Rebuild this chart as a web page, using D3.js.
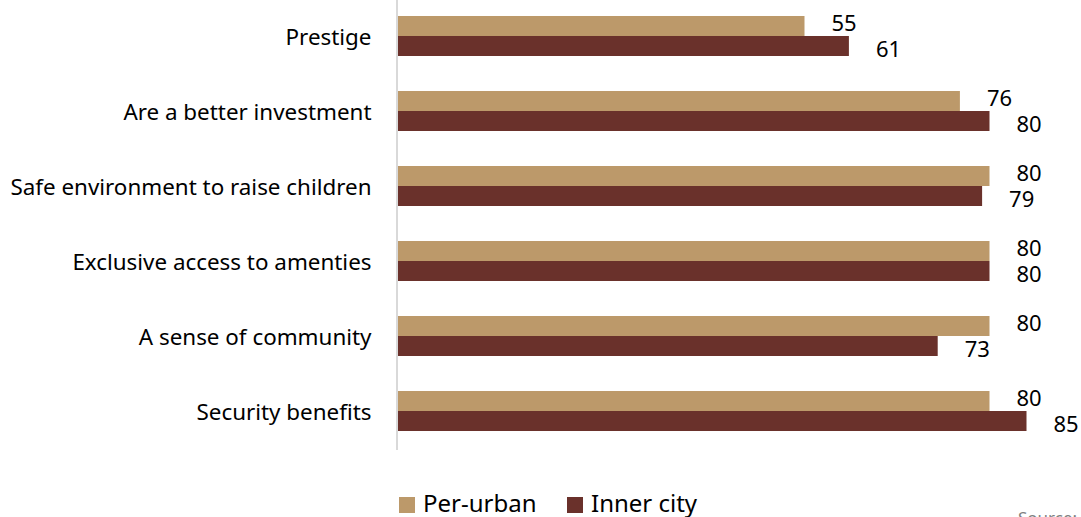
<!DOCTYPE html>
<html>
<head>
<meta charset="utf-8">
<script src="https://cdn.jsdelivr.net/npm/d3@7"></script>
<style>
  html, body { margin: 0; padding: 0; background: #fff; overflow: hidden; }
  svg { display: block; font-family: "Segoe UI", "Noto Sans", "Open Sans", sans-serif; }
</style>
</head>
<body>
<svg id="chart" width="1081" height="517"></svg>
<script>
// Reasons for choosing estate living, by location
const categories = [
  "Prestige",
  "Are a better investment",
  "Safe environment to raise children",
  "Exclusive access to amenties",
  "A sense of community",
  "Security benefits"
];
const seriesNames = ["Per-urban", "Inner city"];
const perUrban = [55, 76, 80, 80, 80, 80];
const innerCity = [61, 80, 79, 80, 73, 85];
const colors = ["#BC996A", "#6A312B"];

const svg = d3.select("#chart");

const x = d3.scaleLinear().domain([0, 100]).range([397.5, 1137.5]);
const y = d3.scaleBand().domain(categories).range([-1.5, 448.5])
  .paddingInner(0.4667).paddingOuter(0.2333);
const sub = d3.scaleBand().domain(seriesNames).range([0, y.bandwidth()]);

const rows = categories.map((c, i) => ({ cat: c, vals: [perUrban[i], innerCity[i]] }));

const groups = svg.append("g").selectAll("g")
  .data(rows).join("g")
  .attr("transform", d => `translate(0,${y(d.cat)})`);

groups.selectAll("rect")
  .data(d => d.vals.map((v, k) => ({ v, k })))
  .join("rect")
  .attr("x", x(0))
  .attr("y", d => sub(seriesNames[d.k]))
  .attr("width", d => x(d.v) - x(0))
  .attr("height", sub.bandwidth())
  .attr("fill", d => colors[d.k]);

// value labels just beyond each bar end
groups.selectAll("text.val")
  .data(d => d.vals.map((v, k) => ({ v, k })))
  .join("text")
  .attr("class", "val")
  .attr("x", d => x(d.v) + 27)
  .attr("y", d => sub(seriesNames[d.k]) + sub.bandwidth() / 2 + (d.k === 0 ? -2.5 : 3.5))
  .attr("dy", "0.35em")
  .attr("font-size", 22)
  .attr("fill", "#000")
  .text(d => d.v);

// category axis
const yAxis = d3.axisLeft(y).tickSize(0).tickPadding(26);
const ax = svg.append("g").attr("transform", `translate(${x(0)},1.5)`).call(yAxis);
ax.select(".domain").remove();
ax.selectAll("text").attr("font-size", 22.4).attr("fill", "#000")
  .attr("font-family", "\"Segoe UI\", \"Noto Sans\", \"Open Sans\", sans-serif");
svg.append("line")
  .attr("x1", x(0) - 0.5).attr("x2", x(0) - 0.5)
  .attr("y1", 0).attr("y2", 450)
  .attr("stroke", "#D9D9D9").attr("stroke-width", 2);

// legend
const legendItems = [{ name: seriesNames[0], x: 399, c: colors[0] }, { name: seriesNames[1], x: 567, c: colors[1] }];
const lg = svg.append("g").selectAll("g").data(legendItems).join("g")
  .attr("transform", d => `translate(${d.x},497)`);
lg.append("rect").attr("width", 16).attr("height", 16).attr("fill", d => d.c);
lg.append("text").attr("x", 24).attr("y", 15).attr("font-size", 24).attr("fill", "#000")
  .text(d => d.name);

svg.append("text").attr("x", 1018).attr("y", 524).attr("font-size", 17)
  .attr("fill", "#7F7F7F").text("Source:");
</script>
</body>
</html>
